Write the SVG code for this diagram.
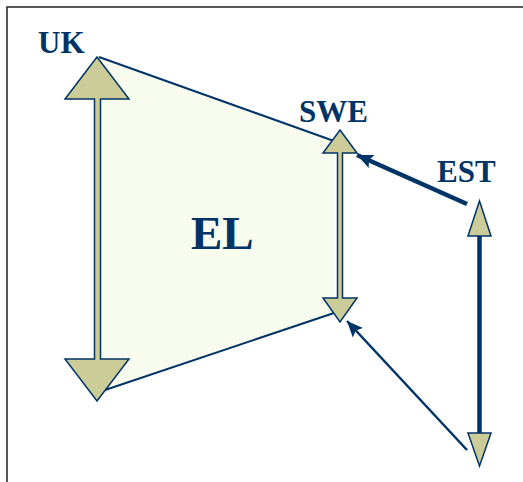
<svg xmlns="http://www.w3.org/2000/svg" width="523" height="482" viewBox="0 0 523 482">
<defs>
<style>
.lbl{font-weight:bold;fill:#003366}
.dbl{fill:#CCCC99;stroke:#003366;stroke-width:1.5;stroke-linejoin:miter}
.edge{stroke:#003366;fill:none}
</style>
<marker id="ah" markerUnits="userSpaceOnUse" markerWidth="18" markerHeight="16" refX="16" refY="7" orient="auto" viewBox="0 0 18 14">
<path d="M0,0 L16,7 L0,14 L3,7 Z" fill="#003366"/>
</marker>
</defs>
<rect x="0" y="0" width="523" height="482" fill="#ffffff"/>
<path d="M7,482 L7,7 L523,7" fill="none" stroke="#222" stroke-width="1.5"/>
<g id="EL">
<polygon points="97,57 334,141 334,313 100,392" fill="#F8FCEE"/>
<line class="edge" x1="99" y1="57" x2="334" y2="141" stroke-width="2"/>
<line class="edge" x1="102" y1="391" x2="334" y2="313" stroke-width="2"/>
<text class="lbl" x="191" y="249" font-size="47" font-family="Liberation Serif, Times New Roman, serif">EL</text>
</g>
<g id="UK">
<polygon class="dbl" points="97,57 129,99 100.5,99 100.5,359 129,359 97,401 65,359 94.5,359 94.5,99 65,99"/>
<text class="lbl" x="38" y="53" font-size="31" font-family="Liberation Serif, Times New Roman, serif">UK</text>
</g>
<g id="SWE">
<polygon class="dbl" points="340,130 357,153 342.5,153 342.5,298 357,298 340,322 323,298 337.5,298 337.5,153 323,153"/>
<text class="lbl" x="299" y="122" font-size="31" font-family="Liberation Serif, Times New Roman, serif">SWE</text>
</g>
<g id="EST">
<line x1="479.5" y1="234" x2="479.5" y2="435" stroke="#003366" stroke-width="4.5"/>
<polygon class="dbl" points="479.5,201 491,236 468,236"/>
<polygon class="dbl" points="468,433 491,433 479.5,466"/>
<text class="lbl" x="437" y="182" font-size="31" font-family="Liberation Serif, Times New Roman, serif">EST</text>
</g>
<g id="connectors">
<line class="edge" x1="467" y1="204" x2="357" y2="155" stroke-width="4.5" marker-end="url(#ah)"/>
<line class="edge" x1="467" y1="450" x2="347" y2="321" stroke-width="2.5" marker-end="url(#ah)"/>
</g>
</svg>
